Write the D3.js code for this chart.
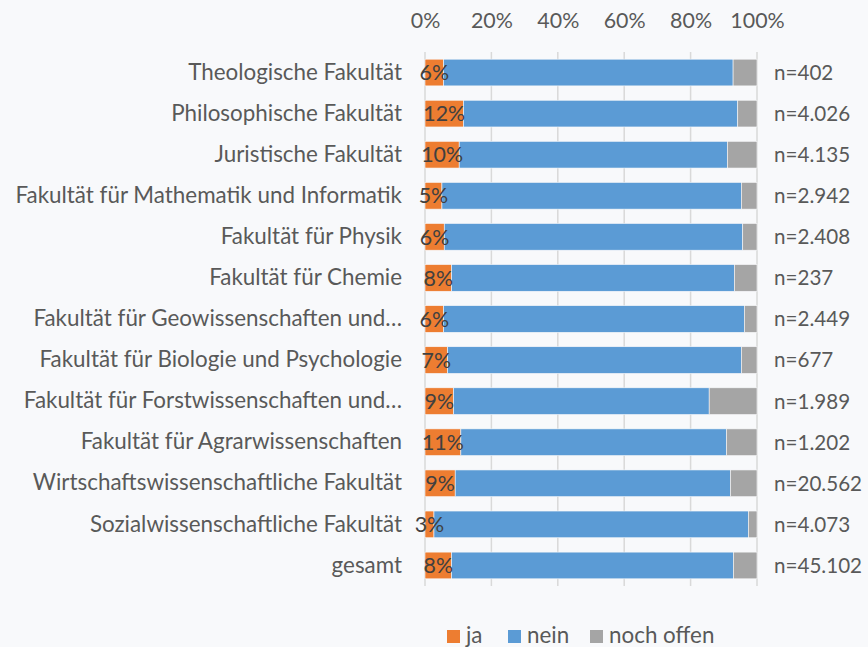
<!DOCTYPE html>
<html>
<head>
<meta charset="utf-8">
<script src="https://cdn.jsdelivr.net/npm/d3@7"></script>
<style>
  html, body { margin: 0; padding: 0; background: #f8f9fb; }
  #chart { width: 868px; height: 647px; }
  text { font-family: Lato, "Open Sans", sans-serif; }
</style>
</head>
<body>
<div id="chart"></div>
<script>
// Fakultäten (oben → unten)
const CATEGORIES = [
  "Theologische Fakultät", "Philosophische Fakultät", "Juristische Fakultät",
  "Fakultät für Mathematik und Informatik", "Fakultät für Physik", "Fakultät für Chemie",
  "Fakultät für Geowissenschaften und…", "Fakultät für Biologie und Psychologie",
  "Fakultät für Forstwissenschaften und…", "Fakultät für Agrarwissenschaften",
  "Wirtschaftswissenschaftliche Fakultät", "Sozialwissenschaftliche Fakultät", "gesamt"
];
// Anteile in %
const JA    = [5.6, 11.6, 10.3, 5.1, 5.8, 8.0, 5.6, 6.8, 8.6, 10.8, 9.1, 2.7, 8.0];
const NEIN  = [87.2, 82.6, 80.8, 90.2, 89.9, 85.2, 90.6, 88.5, 77.0, 80.0, 82.9, 94.7, 84.9];
const OFFEN = [7.2, 5.8, 8.9, 4.7, 4.3, 6.8, 3.8, 4.7, 14.4, 9.2, 8.0, 2.6, 7.1];
const N_LABELS = ["n=402", "n=4.026", "n=4.135", "n=2.942", "n=2.408", "n=237", "n=2.449",
  "n=677", "n=1.989", "n=1.202", "n=20.562", "n=4.073", "n=45.102"];
const X_TICKS = [0, 20, 40, 60, 80, 100];
const SERIES = ["ja", "nein", "noch offen"];
const COLORS = ["#ED7D31", "#5B9BD5", "#A5A5A5"];

const W = 868, H = 647;
const m = { t: 52, r: 111, b: 61, l: 425 };
const iw = W - m.l - m.r, ih = H - m.t - m.b;
const FS = 22.4;   // Beschriftungen
const FS_NUM = 20.6; // Zahlen (Lato-Ziffern sind breiter)

const svg = d3.select("#chart").append("svg").attr("width", W).attr("height", H);
const g = svg.append("g").attr("transform", `translate(${m.l},${m.t})`);

const x = d3.scaleLinear().domain([0, 100]).range([0, iw]);
const y = d3.scaleBand().domain(CATEGORIES).range([0, ih]).paddingInner(0.35).paddingOuter(0.175);
const color = d3.scaleOrdinal().domain(SERIES).range(COLORS);

// Gitterlinien
g.selectAll(".grid").data(X_TICKS).join("line")
  .attr("x1", d => x(d)).attr("x2", d => x(d)).attr("y1", 0).attr("y2", ih)
  .attr("stroke", "#d9d9d9").attr("stroke-width", 1.5);

// Achse oben
const ax = g.append("g").call(d3.axisTop(x).tickValues(X_TICKS).tickFormat(d => d + "%").tickSize(0).tickPadding(24));
ax.select(".domain").remove();
ax.selectAll("text").attr("fill", "#595959").attr("font-size", FS_NUM + 0.8).attr("font-family", "Lato");

// Kategorien links
const ay = g.append("g").call(d3.axisLeft(y).tickSize(0).tickPadding(23));
ay.select(".domain").remove();
ay.selectAll("text").attr("fill", "#595959").attr("font-size", FS).attr("font-family", "Lato");

// gestapelte Balken
const rows = CATEGORIES.map((c, i) => ({ cat: c, "ja": JA[i], "nein": NEIN[i], "noch offen": OFFEN[i] }));
const stacked = d3.stack().keys(SERIES)(rows);

g.selectAll(".layer").data(stacked).join("g")
  .attr("fill", d => color(d.key))
  .selectAll("rect").data(d => d).join("rect")
  .attr("x", d => x(d[0])).attr("width", d => x(d[1]) - x(d[0]))
  .attr("y", d => y(d.data.cat)).attr("height", y.bandwidth())
  .attr("stroke", "#f8f9fb").attr("stroke-width", 0.6);

// Datenbeschriftung "ja"
g.selectAll(".lbl").data(stacked[0]).join("text")
  .attr("x", d => x((d[0] + d[1]) / 2))
  .attr("y", d => y(d.data.cat) + y.bandwidth() / 2)
  .attr("dy", "0.36em").attr("text-anchor", "middle")
  .attr("fill", "#404040").attr("font-size", FS_NUM + 0.8)
  .text(d => Math.round(d.data["ja"]) + "%");

// n-Werte rechts
g.selectAll(".nlbl").data(CATEGORIES).join("text")
  .attr("x", iw + 17).attr("y", d => y(d) + y.bandwidth() / 2)
  .attr("dy", "0.36em").attr("fill", "#595959").attr("font-size", FS_NUM)
  .text((d, i) => N_LABELS[i]);

// Legende
const legX = [447, 508, 590];
const leg = svg.append("g").selectAll("g").data(SERIES).join("g")
  .attr("transform", (d, i) => `translate(${legX[i]},630)`);
leg.append("rect").attr("width", 13).attr("height", 13).attr("fill", d => color(d));
leg.append("text").attr("x", 19).attr("y", 12.5)
  .attr("fill", "#595959").attr("font-size", FS).text(d => d);
</script>
</body>
</html>
